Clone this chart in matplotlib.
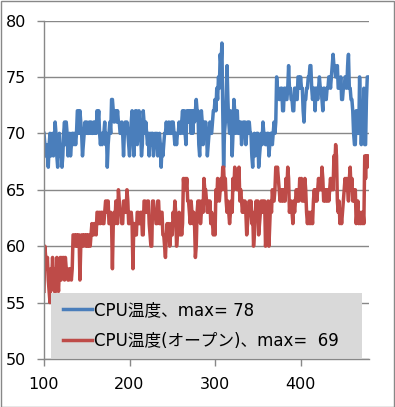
import numpy as np
import matplotlib
matplotlib.use("Agg")
import matplotlib.pyplot as plt
from matplotlib.patches import Rectangle

plt.rcParams['font.family'] = ['DejaVu Sans', 'Noto Sans CJK JP']

x_start = 100  # one reading per x unit

cpu_temp = [
    70, 69, 68, 69, 68, 67, 69, 70, 68, 69,
    70, 68, 69, 71, 70, 68, 67, 69, 70, 68,
    69, 67, 68, 70, 71, 69, 71, 70, 68, 69,
    70, 68, 69, 70, 70, 69, 70, 69, 70, 72,
    72, 70, 72, 71, 70, 68, 69, 70, 71, 70,
    71, 70, 70, 71, 70, 71, 70, 70, 71, 70,
    71, 70, 72, 71, 72, 70, 69, 70, 69, 70,
    70, 71, 69, 70, 67, 69, 70, 71, 70, 73,
    73, 72, 71, 72, 72, 71, 72, 71, 71, 70,
    70, 71, 70, 68, 70, 71, 70, 71, 70, 69,
    68, 70, 71, 72, 70, 68, 70, 72, 72, 69,
    70, 72, 71, 70, 68, 69, 72, 71, 70, 71,
    70, 69, 70, 68, 70, 69, 70, 70, 68, 69,
    70, 69, 70, 68, 69, 70, 69, 67, 69, 68,
    69, 70, 70, 71, 70, 70, 71, 70, 70, 71,
    70, 71, 70, 69, 70, 69, 70, 70, 71, 70,
    70, 71, 72, 70, 72, 70, 69, 72, 71, 72,
    71, 72, 70, 72, 70, 72, 71, 72, 73, 72,
    72, 69, 68, 70, 72, 71, 69, 71, 70, 71,
    70, 68, 69, 70, 71, 70, 70, 71, 72, 72,
    73, 72, 74, 73, 75, 74, 77, 76, 78, 72,
    67, 70, 71, 73, 76, 73, 71, 70, 72, 71,
    68, 70, 73, 72, 70, 71, 72, 70, 70, 71,
    71, 69, 70, 71, 70, 71, 69, 70, 71, 70,
    71, 70, 70, 68, 67, 69, 70, 68, 69, 70,
    70, 67, 68, 69, 70, 69, 71, 70, 70, 69,
    69, 70, 70, 68, 69, 70, 70, 69, 70, 71,
    70, 71, 75, 74, 74, 73, 73, 74, 74, 72,
    72, 74, 74, 73, 73, 74, 76, 74, 74, 73,
    73, 72, 72, 74, 74, 73, 73, 75, 75, 74,
    75, 74, 74, 72, 71, 73, 73, 74, 74, 75,
    75, 76, 76, 74, 73, 74, 74, 72, 74, 74,
    73, 74, 75, 74, 74, 73, 72, 74, 74, 73,
    73, 74, 74, 75, 75, 74, 75, 76, 77, 76,
    76, 75, 75, 76, 74, 74, 74, 75, 73, 73,
    74, 74, 75, 75, 74, 76, 77, 74, 74, 73,
    73, 72, 70, 69, 69, 72, 72, 70, 70, 75,
    72, 69, 71, 70, 74, 69, 69, 73, 75, 75,
]

cpu_temp_open = [
    56, 60, 59, 58, 59, 57, 56, 55, 58, 57,
    59, 57, 56, 58, 56, 59, 57, 56, 58, 59,
    57, 59, 58, 59, 57, 59, 58, 58, 57, 57,
    58, 58, 57, 58, 61, 61, 61, 60, 61, 60,
    61, 61, 57, 60, 61, 61, 60, 61, 61, 60,
    61, 60, 61, 60, 60, 61, 62, 61, 61, 62,
    62, 61, 63, 63, 62, 63, 62, 63, 63, 62,
    62, 63, 64, 64, 63, 64, 62, 62, 63, 62,
    58, 62, 63, 62, 64, 63, 62, 65, 64, 63,
    63, 62, 62, 64, 64, 63, 63, 65, 64, 62,
    62, 63, 63, 62, 58, 62, 62, 61, 61, 63,
    63, 62, 62, 63, 63, 61, 61, 64, 64, 63,
    63, 64, 64, 62, 61, 60, 60, 64, 64, 63,
    63, 62, 62, 64, 64, 62, 62, 63, 63, 61,
    61, 60, 59, 61, 62, 61, 62, 60, 61, 62,
    61, 63, 62, 64, 63, 60, 61, 62, 63, 61,
    62, 61, 62, 66, 65, 66, 65, 66, 64, 64,
    63, 62, 64, 63, 62, 63, 62, 59, 60, 63,
    64, 63, 64, 62, 63, 64, 63, 66, 65, 65,
    64, 63, 64, 63, 64, 62, 63, 62, 61, 62,
    61, 65, 64, 66, 65, 64, 65, 66, 65, 67,
    67, 65, 66, 64, 63, 64, 63, 62, 63, 64,
    63, 66, 65, 67, 66, 66, 65, 66, 67, 64,
    65, 64, 63, 64, 63, 64, 63, 61, 62, 63,
    64, 63, 64, 62, 63, 60, 61, 63, 64, 63,
    64, 61, 62, 63, 64, 63, 64, 63, 64, 60,
    61, 63, 64, 60, 62, 64, 63, 65, 64, 64,
    65, 67, 66, 67, 66, 65, 64, 65, 64, 65,
    64, 65, 64, 66, 65, 67, 66, 63, 64, 64,
    63, 62, 64, 63, 64, 65, 64, 65, 64, 66,
    65, 66, 64, 65, 64, 66, 65, 63, 62, 63,
    62, 63, 62, 63, 62, 64, 65, 64, 65, 64,
    65, 66, 65, 66, 65, 67, 66, 64, 65, 64,
    65, 64, 65, 64, 65, 66, 65, 66, 65, 68,
    67, 69, 68, 64, 63, 64, 62, 63, 62, 63,
    64, 65, 66, 65, 66, 65, 64, 66, 67, 65,
    66, 64, 65, 64, 65, 62, 63, 64, 62, 63,
    62, 63, 62, 63, 62, 68, 66, 68, 67, 68,
]

labels = ["CPU温度、max= 78", "CPU温度(オープン)、max=  69"]
x_ticks = [100, 200, 300, 400]
y_ticks = [50, 55, 60, 65, 70, 75, 80]

x_blue = np.arange(len(cpu_temp)) + x_start
x_red = np.arange(len(cpu_temp_open)) + x_start

W, H = 395, 407
fig = plt.figure(figsize=(W / 100, H / 100), dpi=100)
ax = fig.add_axes([44 / W, 1 - 359 / H, (369 - 44) / W, (359 - 20.5) / H])

gray = '#888888'
ax.plot(x_blue, cpu_temp, color='#4a7ebb', lw=2.5, label=labels[0])
ax.plot(x_red, cpu_temp_open, color='#be4b48', lw=2.5, label=labels[1])

ax.set_xlim(100, 480)
ax.set_ylim(50, 80)
ax.set_xticks(x_ticks)
ax.set_yticks(y_ticks)
ax.yaxis.grid(True, color=gray, lw=1)
ax.set_axisbelow(True)
for s in ['top', 'right']:
    ax.spines[s].set_visible(False)
for s in ['left', 'bottom']:
    ax.spines[s].set_color(gray)
    ax.spines[s].set_linewidth(1)
ax.tick_params(axis='both', direction='out', length=5, width=1, color=gray,
               labelsize=11.5, pad=8, labelcolor='black')

# legend background box
ax.add_patch(Rectangle((0.0215, 0.003), 0.957, 0.192, transform=ax.transAxes,
                       facecolor='#d9d9d9', edgecolor='none', zorder=4))
leg = ax.legend(loc='upper left', bbox_to_anchor=(0.0585, 0.171),
                borderaxespad=0, frameon=False, borderpad=0,
                prop={'family': ['DejaVu Sans', 'Noto Sans CJK JP'], 'size': 12},
                handlelength=1.75, handletextpad=0.1, labelspacing=0.75)
leg.set_zorder(5)
for line in leg.get_lines():
    line.set_linewidth(2.5)

fig.add_artist(Rectangle((0.5 / W, 0.5 / H), 1 - 1.5 / W, 1 - 1.5 / H,
                         transform=fig.transFigure, fill=False, edgecolor=gray, lw=1))

fig.savefig('out.png', dpi=100)
